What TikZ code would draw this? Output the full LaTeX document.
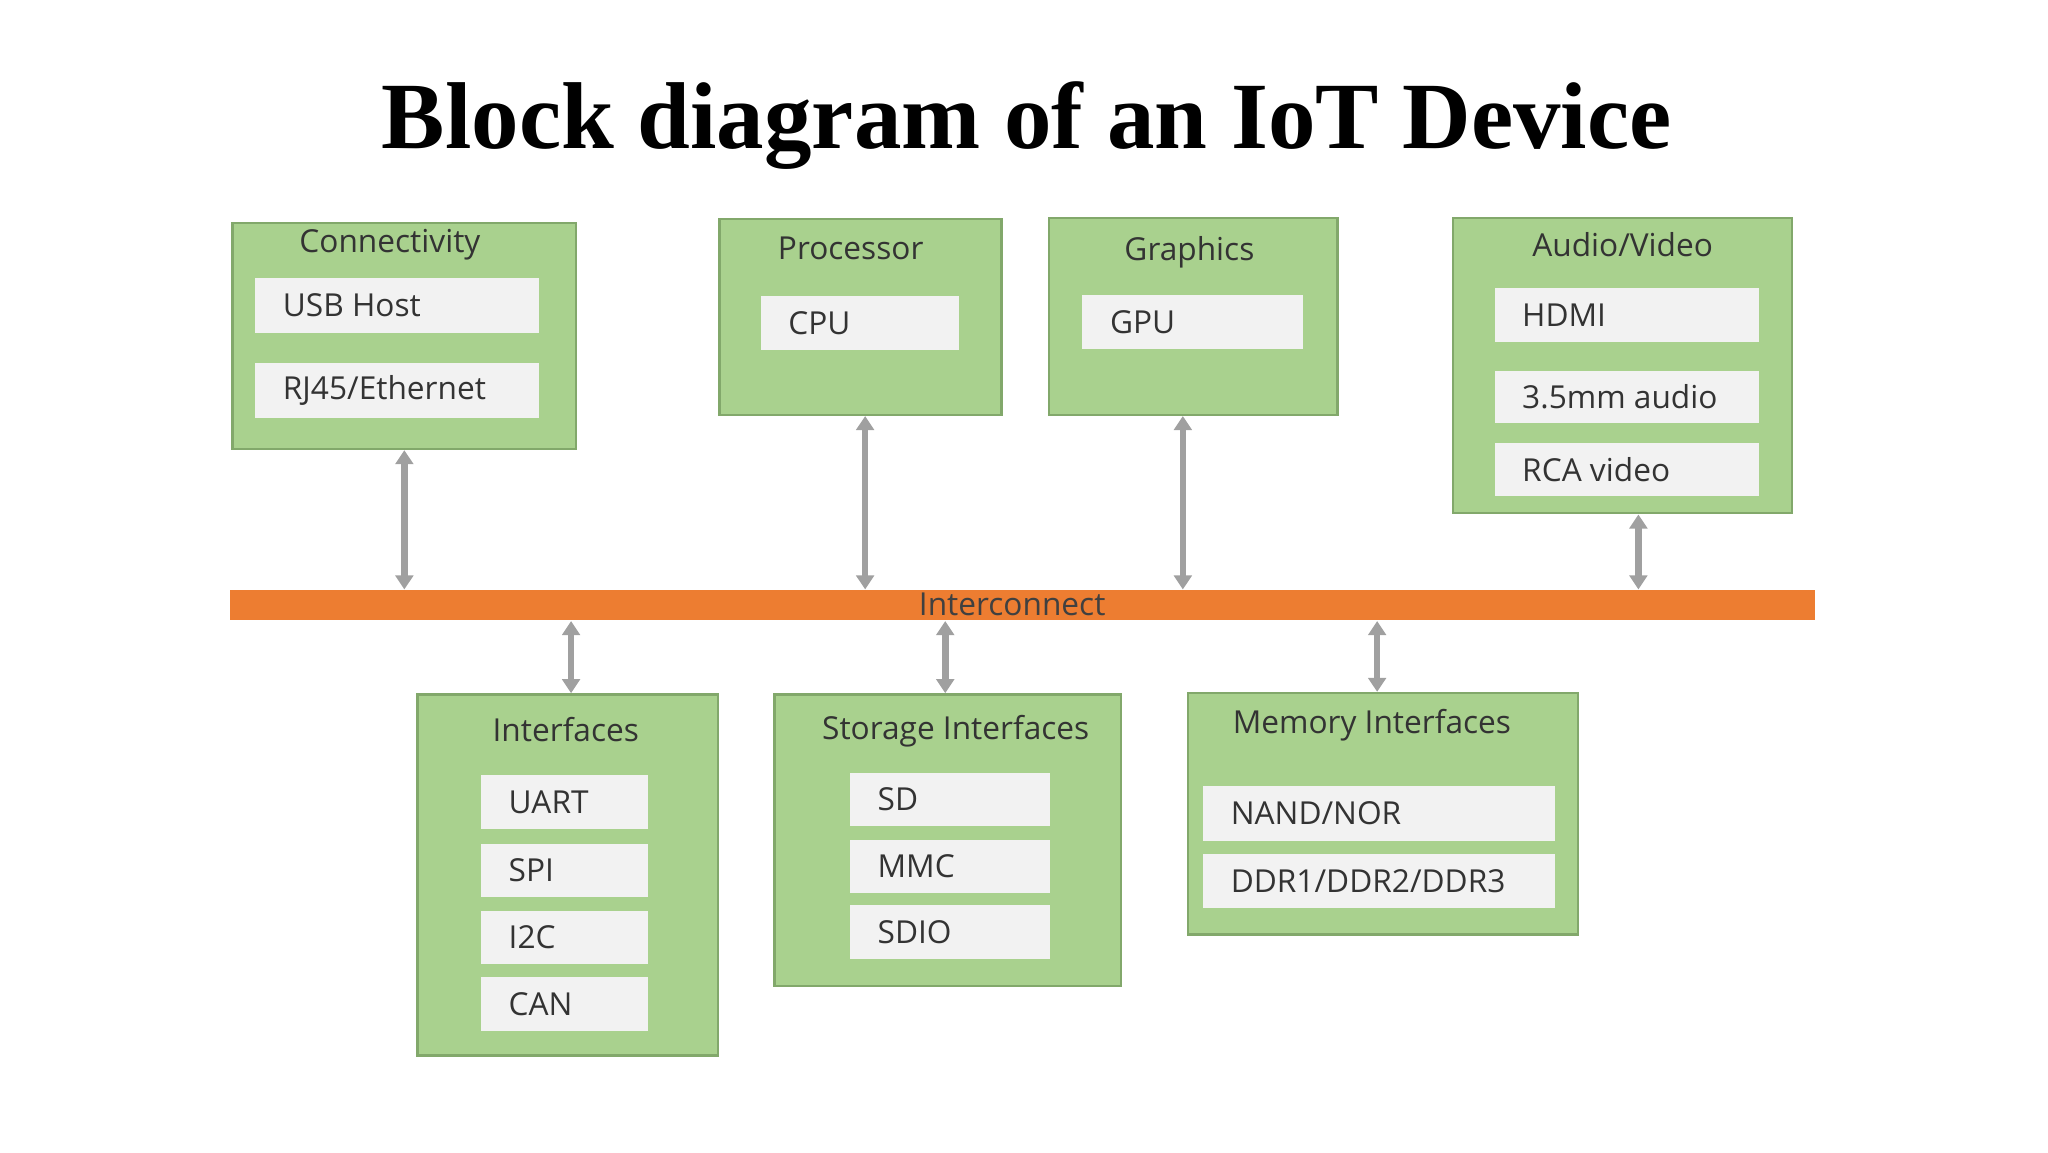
\documentclass[tikz,border=0pt]{standalone}
\usepackage{fontspec}
\setmainfont{Liberation Serif}
\newfontfamily\boxfont{Open Sans}
\usetikzlibrary{arrows.meta}
\definecolor{blockgreen}{HTML}{A9D18E}
\definecolor{blockedge}{HTML}{82A86B}
\definecolor{itemgray}{HTML}{F2F2F2}
\definecolor{busorange}{HTML}{ED7D31}
\definecolor{arrowgray}{HTML}{A0A0A0}
\begin{document}
\begin{tikzpicture}[x=0.013128cm, y=-0.013128cm,
  block/.style={draw=blockedge, line width=0.7pt, fill=blockgreen},
  item/.style={fill=itemgray, inner sep=0pt, anchor=north west},
  label/.style={font=\boxfont\fontsize{9}{10}\selectfont, text=black!80},
  bus/.style={draw=arrowgray, line width=1.9pt, {Triangle[width=5pt,length=4pt]}-{Triangle[width=5pt,length=4pt]}}]
\useasboundingbox (0,0) rectangle (1560,877.5);
\node[font=\bfseries\fontsize{27}{30}\selectfont] (title) at (782,96) {Block diagram of an IoT Device};

% blocks
\newcommand{\blk}[5]{\node[block, anchor=north west, minimum width={(#4-#2)*0.013128cm}, minimum height={(#5-#3)*0.013128cm}, inner sep=0pt] (#1) at (#2,#3) {};}
\newcommand{\itm}[6]{\node[item, minimum width={(#4-#2)*0.013128cm}, minimum height={(#5-#3)*0.013128cm}] (#1) at (#2,#3) {};
  \node[label, anchor=west] at ([xshift=4.5pt]#1.west) {#6};}

\blk{conn}{176}{169}{438}{341}
\node[label] at (297,186) {Connectivity};
\itm{usb}{194}{211}{410}{253}{USB Host}
\itm{rj}{194}{276}{410}{318}{RJ45/Ethernet}

\blk{proc}{547}{166}{762}{315}
\node[label] at (648,189) {Processor};
\itm{cpu}{579}{225}{730}{266}{CPU}

\blk{gfx}{798}{165}{1018}{315}
\node[label] at (906,192) {Graphics};
\itm{gpu}{824}{224}{992}{265}{GPU}

\blk{av}{1106}{165}{1364}{390}
\node[label] at (1236,186) {Audio/Video};
\itm{hdmi}{1138}{219}{1339}{260}{HDMI}
\itm{aud}{1138}{282}{1339}{322}{3.5mm audio}
\itm{rca}{1138}{337}{1339}{377}{RCA video}

\node[fill=busorange, anchor=north west, inner sep=0pt, minimum width={1207*0.013128cm}, minimum height={23*0.013128cm}] (bar) at (175,449) {};
\node[label, text=black!75] at (771,460) {Interconnect};

\blk{intf}{317}{528}{546}{803}
\node[label] at (431,556) {Interfaces};
\itm{uart}{366}{590}{493}{631}{UART}
\itm{spi}{366}{642}{493}{683}{SPI}
\itm{iic}{366}{693}{493}{734}{I2C}
\itm{can}{366}{744}{493}{785}{CAN}

\blk{stor}{589}{528}{853}{750}
\node[label] at (728,557) {Storage Interfaces};
\itm{sd}{647}{588}{799}{629}{SD}
\itm{mmc}{647}{639}{799}{680}{MMC}
\itm{sdio}{647}{689}{799}{730}{SDIO}

\blk{mem}{904}{527}{1201}{711}
\node[label] at (1045,552) {Memory Interfaces};
\itm{nand}{916}{598}{1184}{640}{NAND/NOR}
\itm{ddr}{916}{650}{1184}{691}{DDR1/DDR2/DDR3}

% connectors
\coordinate (x1) at (308,0);
\coordinate (x2) at (659,0);
\coordinate (x3) at (901,0);
\coordinate (x4) at (1248,0);
\coordinate (x5) at (435,0);
\coordinate (x6) at (720,0);
\coordinate (x7) at (1049,0);
\draw[bus] (conn.south -| x1) -- (bar.north -| x1);
\draw[bus] (proc.south -| x2) -- (bar.north -| x2);
\draw[bus] (gfx.south -| x3) -- (bar.north -| x3);
\draw[bus] (av.south -| x4) -- (bar.north -| x4);
\draw[bus] (bar.south -| x5) -- (intf.north -| x5);
\draw[bus] (bar.south -| x6) -- (stor.north -| x6);
\draw[bus] (bar.south -| x7) -- (mem.north -| x7);
\end{tikzpicture}
\end{document}
